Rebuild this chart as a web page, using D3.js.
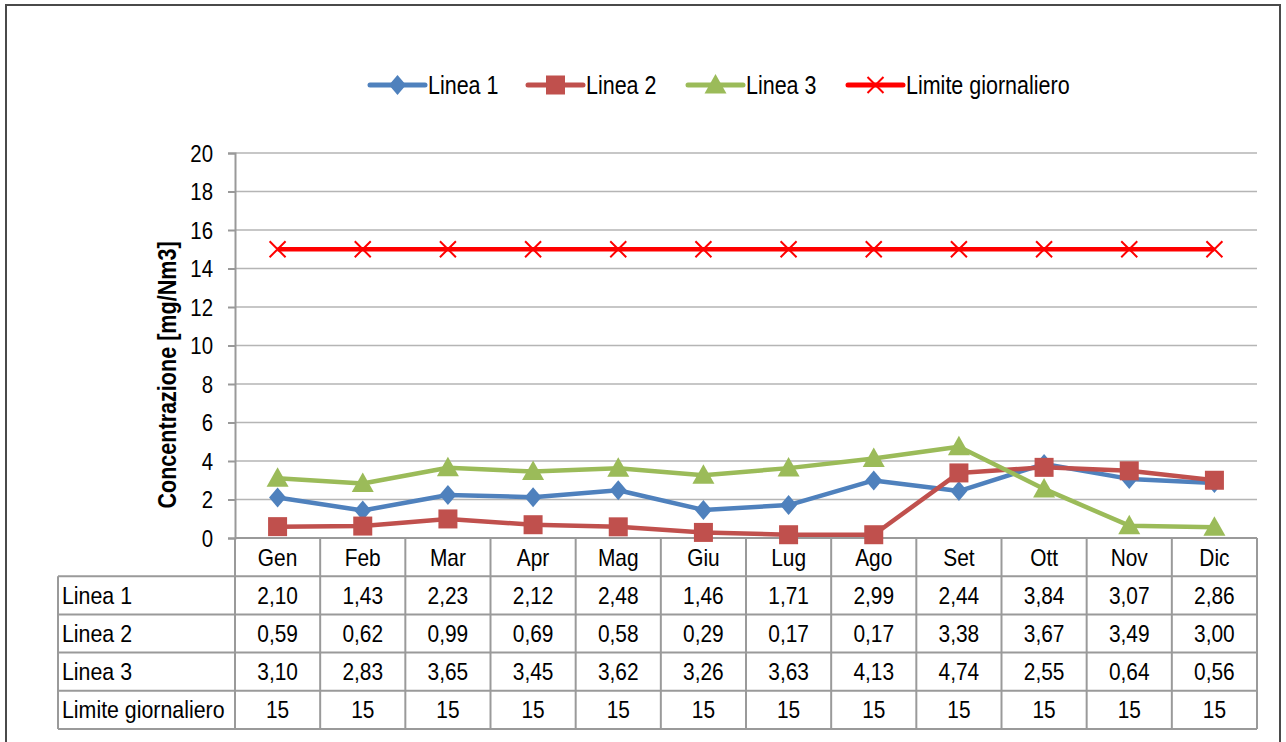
<!DOCTYPE html>
<html>
<head>
<meta charset="utf-8">
<script src="https://cdn.jsdelivr.net/npm/d3@7"></script>
<style>
  body { margin: 0; background: #fff; }
  svg text { font-family: "Liberation Sans", Arial, sans-serif; fill: #000; }
</style>
</head>
<body>
<svg id="chart" width="1286" height="742"></svg>
<script>
const months = ["Gen", "Feb", "Mar", "Apr", "Mag", "Giu", "Lug", "Ago", "Set", "Ott", "Nov", "Dic"];
const linea1 = [2.10, 1.43, 2.23, 2.12, 2.48, 1.46, 1.71, 2.99, 2.44, 3.84, 3.07, 2.86];
const linea2 = [0.59, 0.62, 0.99, 0.69, 0.58, 0.29, 0.17, 0.17, 3.38, 3.67, 3.49, 3.00];
const linea3 = [3.10, 2.83, 3.65, 3.45, 3.62, 3.26, 3.63, 4.13, 4.74, 2.55, 0.64, 0.56];
const limite = [15, 15, 15, 15, 15, 15, 15, 15, 15, 15, 15, 15];
const yTicks = [0, 2, 4, 6, 8, 10, 12, 14, 16, 18, 20];

const comma = d => d.toFixed(2).replace(".", ",");
const series = [
  { name: "Linea 1", values: linea1, color: "#4F81BD", marker: "diamond", fmt: comma },
  { name: "Linea 2", values: linea2, color: "#C0504D", marker: "square", fmt: comma },
  { name: "Linea 3", values: linea3, color: "#9BBB59", marker: "triangle", fmt: comma },
  { name: "Limite giornaliero", values: limite, color: "#FF0000", marker: "x", fmt: d => String(d) }
];

const svg = d3.select("#chart");

// narrow text, Arial Narrow look-alike
function narrow(g, x, y, txt, anchor, size, sx) {
  return g.append("text")
    .attr("transform", `translate(${x},${y}) scale(${sx || 0.87},1)`)
    .attr("text-anchor", anchor || "start")
    .attr("font-size", size || 24)
    .text(txt);
}

// outer frame
svg.append("rect")
  .attr("x", 6).attr("y", 5).attr("width", 1274).attr("height", 745)
  .attr("fill", "none").attr("stroke", "#4a4a4a").attr("stroke-width", 2);

const plotLeft = 235, plotRight = 1257, plotTop = 153, plotBottom = 538;
const rowH = 38.2;

const x = d3.scaleBand().domain(months).range([plotLeft, plotRight]);
const y = d3.scaleLinear().domain([0, 20]).range([plotBottom, plotTop]);
const cx = i => x(months[i]) + x.bandwidth() / 2;

// gridlines
svg.append("g")
  .selectAll("line")
  .data(yTicks.filter(d => d > 0))
  .join("line")
  .attr("x1", plotLeft).attr("x2", plotRight)
  .attr("y1", d => y(d)).attr("y2", d => y(d))
  .attr("stroke", "#b5b5b5").attr("stroke-width", 1.5);

// y axis
const yAxis = svg.append("g")
  .attr("transform", `translate(${plotLeft},0)`)
  .call(d3.axisLeft(y).tickValues(yTicks).tickSize(7));
yAxis.select(".domain").attr("stroke", "#999").attr("stroke-width", 2);
yAxis.selectAll(".tick line").attr("stroke", "#999").attr("stroke-width", 2);
yAxis.selectAll(".tick text")
  .attr("x", 0).attr("dy", "0.35em")
  .attr("transform", "translate(-22,0) scale(0.85,1)")
  .attr("font-size", 24)
  .style("font-family", '"Liberation Sans", Arial, sans-serif');

svg.append("text")
  .attr("transform", "translate(176,375) rotate(-90) scale(0.83,1)")
  .attr("text-anchor", "middle")
  .attr("font-size", 26).attr("font-weight", "bold")
  .text("Concentrazione [mg/Nm3]");

// data table
const table = svg.append("g");
const tableLeft = 58;
const gridColor = "#9a9a9a";

months.forEach((m, i) => narrow(table, cx(i), plotBottom + rowH / 2 + 8.5, m, "middle"));

series.forEach((s, r) => {
  const ry = plotBottom + rowH * (r + 1) + rowH / 2 + 8.5;
  narrow(table, tableLeft + 4, ry, s.name, "start", 24, 0.89);
  s.values.forEach((v, i) => narrow(table, cx(i), ry, s.fmt(v), "middle"));
});

const hLines = d3.range(1, series.length + 2).map(k => plotBottom + rowH * k);
table.selectAll("line.h")
  .data(hLines)
  .join("line")
  .attr("x1", tableLeft).attr("x2", plotRight)
  .attr("y1", d => d).attr("y2", d => d)
  .attr("stroke", gridColor).attr("stroke-width", 2);
table.append("line")
  .attr("x1", plotLeft).attr("x2", plotRight)
  .attr("y1", plotBottom).attr("y2", plotBottom)
  .attr("stroke", gridColor).attr("stroke-width", 2);
const tableBottom = plotBottom + rowH * (series.length + 1);
table.selectAll("line.v")
  .data(months.map(m => x(m)).concat([plotRight]))
  .join("line")
  .attr("x1", d => d).attr("x2", d => d)
  .attr("y1", plotBottom).attr("y2", tableBottom)
  .attr("stroke", gridColor).attr("stroke-width", 2);
table.append("line")
  .attr("x1", tableLeft).attr("x2", tableLeft)
  .attr("y1", plotBottom + rowH).attr("y2", tableBottom)
  .attr("stroke", gridColor).attr("stroke-width", 2);

// markers
function drawMarker(g, type, color, px, py) {
  if (type === "diamond") {
    g.append("path").attr("d", `M${px},${py - 10}L${px + 8.5},${py}L${px},${py + 10}L${px - 8.5},${py}Z`).attr("fill", color);
  } else if (type === "square") {
    g.append("rect").attr("x", px - 9.5).attr("y", py - 9.5).attr("width", 19).attr("height", 19).attr("fill", color);
  } else if (type === "triangle") {
    g.append("path").attr("d", `M${px},${py - 11}L${px + 11},${py + 8.5}L${px - 11},${py + 8.5}Z`).attr("fill", color);
  } else {
    g.append("path").attr("d", `M${px - 8},${py - 8}L${px + 8},${py + 8}M${px + 8},${py - 8}L${px - 8},${py + 8}`)
      .attr("stroke", color).attr("stroke-width", 2).attr("fill", "none");
  }
}

const line = d3.line()
  .x((d, i) => cx(i))
  .y(d => y(d));

const plot = svg.append("g");
series.forEach(s => {
  const g = plot.append("g");
  g.append("path")
    .attr("d", line(s.values))
    .attr("fill", "none")
    .attr("stroke", s.color)
    .attr("stroke-width", 4.5)
    .attr("stroke-linejoin", "round");
  s.values.forEach((v, i) => drawMarker(g, s.marker, s.color, cx(i), y(v)));
});

// legend
const legendX = [370, 528, 688, 848];
const legend = svg.append("g");
series.forEach((s, i) => {
  const lx1 = legendX[i], lx2 = lx1 + 55, ly = 85;
  legend.append("line")
    .attr("x1", lx1).attr("x2", lx2).attr("y1", ly).attr("y2", ly)
    .attr("stroke", s.color).attr("stroke-width", 5).attr("stroke-linecap", "round");
  drawMarker(legend, s.marker, s.color, (lx1 + lx2) / 2, ly);
  narrow(legend, lx2 + 3, ly + 8.5, s.name, "start", 25, 0.86);
});
</script>
</body>
</html>
